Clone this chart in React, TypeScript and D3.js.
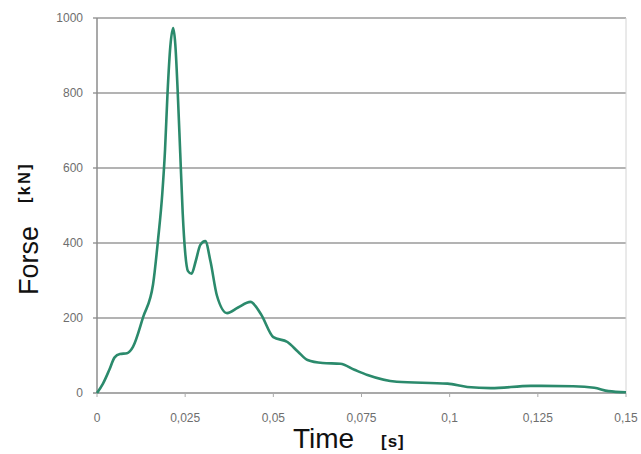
import * as d3 from 'd3';
import React, { useRef, useEffect } from 'react';

// force-time curve
const times = [0, 0.0017, 0.0035, 0.005, 0.0065, 0.0085, 0.0102, 0.0131, 0.0159, 0.0173, 0.0185, 0.0193, 0.0200, 0.0208, 0.0216, 0.0222, 0.0229, 0.0236, 0.0243, 0.0250, 0.0258, 0.0268, 0.0280, 0.0293, 0.0307, 0.0322, 0.0340, 0.0369, 0.04, 0.0435, 0.0465, 0.05, 0.054, 0.057, 0.0597, 0.064, 0.069, 0.073, 0.0767, 0.085, 0.0994, 0.105, 0.1117, 0.123, 0.135, 0.141, 0.145, 0.15];
const forces = [0, 25, 62, 95, 104, 106, 123, 203, 290, 408, 530, 650, 800, 925, 973, 930, 800, 640, 480, 375, 325, 318, 352, 395, 405, 350, 260, 213, 228, 243, 210, 149, 136, 110, 88, 80, 78, 62, 48, 30, 25, 16, 13, 19, 18, 14, 5, 2];

const xTicks = [0, 0.025, 0.05, 0.075, 0.1, 0.125, 0.15];
const xTickLabels = ['0', '0,025', '0,05', '0,075', '0,1', '0,125', '0,15'];
const yTicks = [0, 200, 400, 600, 800, 1000];

const width = 641;
const height = 454;
const margin = { left: 97, right: 15, top: 18, bottom: 61 };

const App = () => {
  const ref = useRef<SVGSVGElement>(null);

  useEffect(() => {
    const svg = d3.select(ref.current);
    svg.selectAll('*').remove();

    const x = d3.scaleLinear().domain([0, 0.15]).range([margin.left, width - margin.right]);
    const y = d3.scaleLinear().domain([0, 1000]).range([height - margin.bottom, margin.top]);

    svg.append('rect').attr('width', width).attr('height', height).attr('fill', '#ffffff');

    // gridlines
    svg.selectAll()
      .data(yTicks.filter(d => d > 0))
      .enter()
      .append('line')
      .attr('x1', x(0) - 4)
      .attr('x2', x(0.15))
      .attr('y1', d => y(d))
      .attr('y2', d => y(d))
      .attr('stroke', '#9a9a9a')
      .attr('stroke-width', 1.5);

    // right border
    svg.append('line')
      .attr('x1', x(0.15)).attr('x2', x(0.15))
      .attr('y1', y(1000)).attr('y2', y(0))
      .attr('stroke', '#d4d4d4').attr('stroke-width', 1);

    // axes
    svg.append('line')
      .attr('x1', x(0)).attr('x2', x(0))
      .attr('y1', y(1000)).attr('y2', y(0))
      .attr('stroke', '#8c8c8c').attr('stroke-width', 1.5);
    svg.append('line')
      .attr('x1', x(0) - 4).attr('x2', x(0.15))
      .attr('y1', y(0)).attr('y2', y(0))
      .attr('stroke', '#8c8c8c').attr('stroke-width', 1.5);

    svg.selectAll()
      .data(xTicks)
      .enter()
      .append('line')
      .attr('x1', d => x(d)).attr('x2', d => x(d))
      .attr('y1', y(0)).attr('y2', y(0) + 4)
      .attr('stroke', '#aaaaaa').attr('stroke-width', 1);

    svg.selectAll()
      .data(yTicks)
      .enter()
      .append('text')
      .attr('x', x(0) - 14)
      .attr('y', d => y(d))
      .attr('dy', '0.35em')
      .attr('text-anchor', 'end')
      .style('font-family', 'Liberation Sans, Arial, sans-serif')
      .style('font-size', '12px')
      .style('fill', '#6e6e6e')
      .text(d => String(d));

    svg.selectAll()
      .data(xTicks)
      .enter()
      .append('text')
      .attr('x', d => x(d))
      .attr('y', y(0) + 29)
      .attr('text-anchor', 'middle')
      .style('font-family', 'Liberation Sans, Arial, sans-serif')
      .style('font-size', '12px')
      .style('fill', '#6e6e6e')
      .text((_, i) => xTickLabels[i]);

    const line = d3.line<number>()
      .x((_, i) => x(times[i]))
      .y(d => y(d))
      .curve(d3.curveMonotoneX);

    svg.append('path')
      .datum(forces)
      .attr('d', line)
      .attr('fill', 'none')
      .attr('stroke', '#2b8a6c')
      .attr('stroke-width', 2.6)
      .attr('stroke-linejoin', 'round');

    // axis titles
    const t = svg.append('text')
      .attr('x', 293)
      .attr('y', 448)
      .style('font-family', 'Liberation Sans, Arial, sans-serif')
      .style('fill', '#111111');
    t.append('tspan').style('font-size', '28px').text('Time');
    t.append('tspan').attr('x', 381).attr('dy', -1).style('font-size', '17px').style('font-weight', 'bold').style('letter-spacing', '1px').text('[s]');

    const f = svg.append('text')
      .attr('transform', 'translate(38,295) rotate(-90)')
      .style('font-family', 'Liberation Sans, Arial, sans-serif')
      .style('fill', '#111111');
    f.append('tspan').style('font-size', '27px').text('Forse');
    f.append('tspan').attr('x', 92).attr('dy', -8).style('font-size', '16px').style('font-weight', 'bold').style('letter-spacing', '2.5px').text('[kN]');
  }, []);

  return (
    <svg ref={ref} width={width} height={height} style={{ position: 'absolute', left: 0, top: 0 }} />
  );
};

export default App;
